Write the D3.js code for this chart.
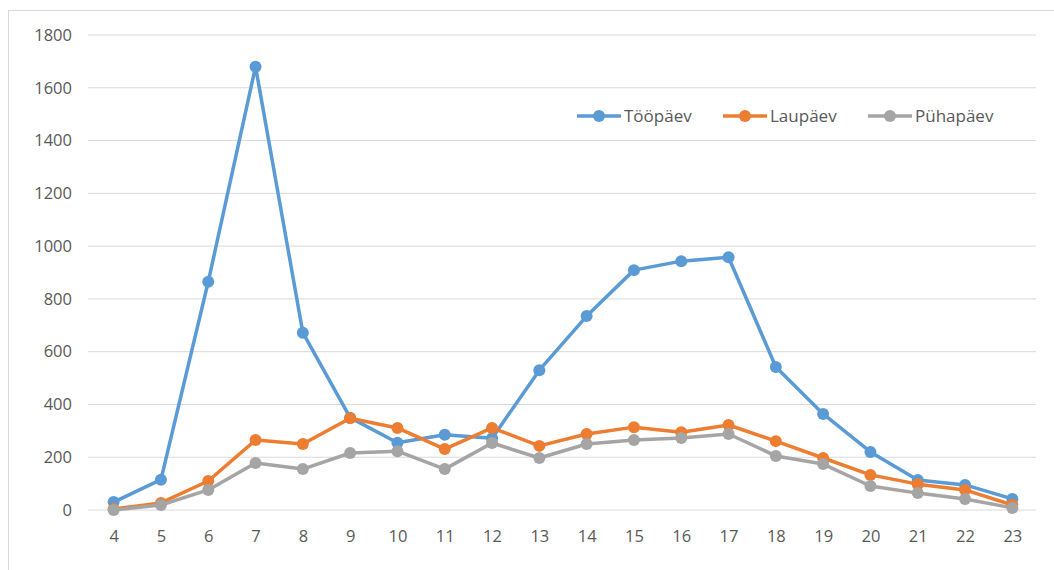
<!DOCTYPE html>
<html><head><meta charset="utf-8">
<script src="https://cdn.jsdelivr.net/npm/d3@7/dist/d3.min.js"></script>
<style>body{margin:0;background:#fff;} text{font-family:"Open Sans","Liberation Sans",sans-serif;}</style>
</head><body>
<svg id="c" width="1054" height="570"></svg>
<script>
const hours = [4,5,6,7,8,9,10,11,12,13,14,15,16,17,18,19,20,21,22,23];
const tooPaev = [30,115,865,1680,672,350,255,285,272,530,735,909,943,958,542,364,220,114,95,42];
const lauPaev = [4,27,110,265,250,348,311,231,311,243,288,314,295,322,261,197,133,98,76,19];
const puhaPaev = [0,19,76,178,155,216,223,155,254,197,250,265,273,288,205,174,91,64,42,8];
const yTicks = [0,200,400,600,800,1000,1200,1400,1600,1800];
const seriesNames = ["Tööpäev","Laupäev","Pühapäev"];
const colors = ["#5B9BD5","#ED7D31","#A5A5A5"];
const series = [tooPaev, lauPaev, puhaPaev];

const svg = d3.select("#c");
svg.append("rect").attr("x",8.5).attr("y",10.5).attr("width",1060).attr("height",570)
  .attr("fill","none").attr("stroke","#d9d9d9");

const pLeft = 90, pRight = 1036, pTop = 35, pBottom = 510;
const x = d3.scalePoint().domain(hours).range([pLeft, pRight]).padding(0.5);
const y = d3.scaleLinear().domain([0,1800]).range([pBottom, pTop]);

const g = svg.append("g");
g.selectAll("line.grid").data(yTicks).enter().append("line")
  .attr("x1",88).attr("x2",pRight).attr("y1",d=>y(d)).attr("y2",d=>y(d))
  .attr("stroke","#d9d9d9").attr("stroke-width",1);

const yAxis = d3.axisLeft(y).tickValues(yTicks).tickFormat(d3.format("d")).tickSize(0).tickPadding(0);
const ya = svg.append("g").attr("transform","translate(72,0)").call(yAxis);
ya.select(".domain").remove();
ya.selectAll("text").attr("fill","#595959").style("font-size","16.5px");

const xAxis = d3.axisBottom(x).tickSize(0).tickPadding(0);
const xa = svg.append("g").attr("transform","translate(0,530)").call(xAxis);
xa.select(".domain").remove();
xa.selectAll("text").attr("fill","#595959").style("font-size","16.5px");

const line = d3.line().x((d,i)=>x(hours[i])).y(d=>y(d));
series.forEach((s,k)=>{
  svg.append("path").datum(s).attr("d",line).attr("fill","none")
    .attr("stroke",colors[k]).attr("stroke-width",3.5).attr("stroke-linejoin","round");
  svg.selectAll(null).data(s).enter().append("circle")
    .attr("cx",(d,i)=>x(hours[i])).attr("cy",d=>y(d)).attr("r",6).attr("fill",colors[k]);
});

const legX = [577,723,868];
seriesNames.forEach((n,k)=>{
  const lg = svg.append("g").attr("transform",`translate(${legX[k]},116)`);
  lg.append("line").attr("x1",0).attr("x2",44).attr("stroke",colors[k]).attr("stroke-width",3.5);
  lg.append("circle").attr("cx",22).attr("r",6).attr("fill",colors[k]);
  lg.append("text").attr("x",47).attr("dy","0.35em").attr("fill","#595959")
    .style("font-size","17px").text(n);
});
</script>
</body></html>
